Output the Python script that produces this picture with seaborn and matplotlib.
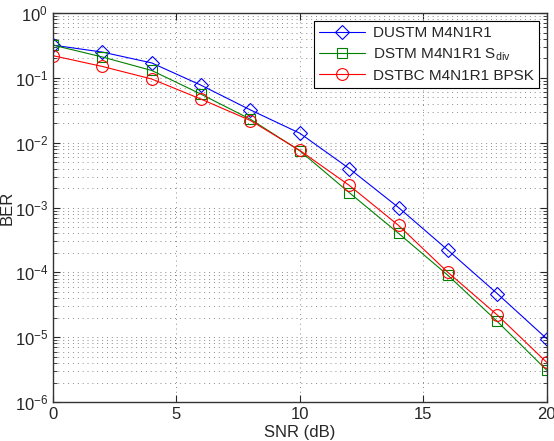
import matplotlib
matplotlib.use("Agg")
import matplotlib.pyplot as plt
import matplotlib.ticker as mticker
import numpy as np
import pandas as pd
import seaborn as sns

# %%
snr = [0, 2, 4, 6, 8, 10, 12, 14, 16, 18, 20]
ber_dustm = [0.32, 0.25, 0.17, 0.077, 0.032, 0.014, 0.004, 0.001, 2.2e-4, 4.7e-5, 9.5e-6]
ber_dstm = [0.32, 0.21, 0.13, 0.056, 0.023, 0.0075, 0.0017, 4.0e-4, 9.0e-5, 1.75e-5, 3.1e-6]
ber_dstbc = [0.22, 0.15, 0.096, 0.047, 0.022, 0.0076, 0.0022, 5.3e-4, 1.0e-4, 2.2e-5, 4.1e-6]

labels = ["DUSTM M4N1R1", r"DSTM M4N1R1 S$_{\mathrm{div}}$", "DSTBC M4N1R1 BPSK"]
colors = ["#0000ff", "#008000", "#ff0000"]
markers = ["D", "s", "o"]
msizes = [7, 6.5, 8.5]

df = pd.DataFrame({
    "snr": snr * 3,
    "ber": ber_dustm + ber_dstm + ber_dstbc,
    "scheme": [labels[0]] * len(snr) + [labels[1]] * len(snr) + [labels[2]] * len(snr),
})

# %%
sns.set_style("ticks")
plt.rcParams["font.family"] = ["Liberation Sans", "DejaVu Sans"]
plt.rcParams["mathtext.fontset"] = "custom"
plt.rcParams["mathtext.rm"] = "Liberation Sans"
plt.rcParams["mathtext.it"] = "Liberation Sans:italic"

fig = plt.figure(figsize=(5.54, 4.41), dpi=100)
ax = fig.add_axes([0.0957, 0.0884, 0.891, 0.882])

for lab, col, mk, ms in zip(labels, colors, markers, msizes):
    sub = df[df.scheme == lab]
    sns.lineplot(data=sub, x="snr", y="ber", ax=ax, color=col, marker=mk, markersize=ms,
                 mfc="none", mec=col, mew=0.8, lw=0.8, label=lab)

ax.set_yscale("log")
ax.set_xlim(0, 20)
ax.set_ylim(1e-6, 1)
ax.set_xticks([0, 5, 10, 15, 20])
ax.yaxis.set_major_locator(mticker.LogLocator(base=10, numticks=10))
ax.yaxis.set_minor_locator(mticker.LogLocator(base=10, subs=np.arange(2, 10), numticks=20))
ax.yaxis.set_minor_formatter(mticker.NullFormatter())

grid_style = dict(color="#8a8a8a", ls=(0, (1, 4)), lw=0.7)
ax.grid(True, which="major", axis="both", **grid_style)
ax.grid(True, which="minor", axis="y", **grid_style)
ax.tick_params(which="both", direction="in", top=True, right=True, labelsize=12)
ax.tick_params(which="major", length=5)
ax.tick_params(which="minor", length=3)
for s in ax.spines.values():
    s.set_linewidth(1.0)
    s.set_color("#333333")

ax.set_xlabel("SNR (dB)", fontsize=12, labelpad=2)
ax.set_ylabel("BER", fontsize=12, labelpad=0)

leg = ax.legend(loc="upper right", fontsize=11, frameon=True, fancybox=False,
                edgecolor="black", framealpha=1, borderaxespad=0.5,
                handlelength=3.0, handletextpad=0.5, labelspacing=0.4, borderpad=0.35)
leg.get_frame().set_linewidth(0.8)

fig.savefig("out.png", dpi=100)
